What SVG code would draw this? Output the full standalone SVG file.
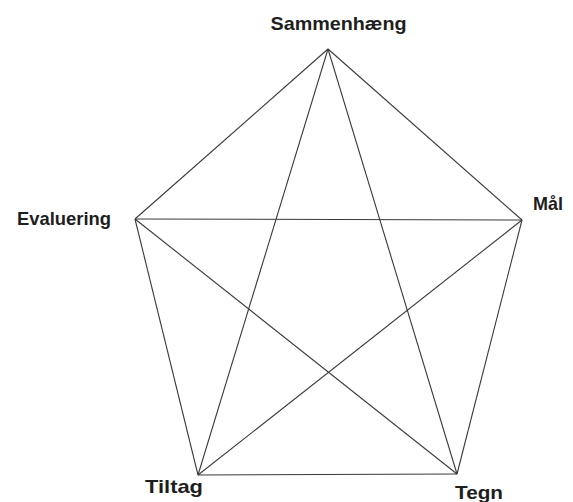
<svg xmlns="http://www.w3.org/2000/svg" width="573" height="502" viewBox="0 0 573 502">
<style>
.e{stroke:#3a3a3a;stroke-width:1.1;fill:none}
.t{font-family:"Liberation Sans",Arial,sans-serif;font-weight:bold;font-size:19px;fill:#1e1e1e}
</style>
<rect width="573" height="502" fill="#ffffff"/>
<g id="connectors">
<line class="e" x1="328" y1="49" x2="522" y2="220"/>
<line class="e" x1="522" y1="220" x2="457" y2="474"/>
<line class="e" x1="457" y1="474" x2="198" y2="475"/>
<line class="e" x1="198" y1="475" x2="135" y2="219"/>
<line class="e" x1="135" y1="219" x2="328" y2="49"/>
<line class="e" x1="328" y1="49" x2="457" y2="474"/>
<line class="e" x1="328" y1="49" x2="198" y2="475"/>
<line class="e" x1="135" y1="219" x2="522" y2="220"/>
<line class="e" x1="135" y1="219" x2="457" y2="474"/>
<line class="e" x1="522" y1="220" x2="198" y2="475"/>
</g>
<g id="sammenhaeng"><text class="t" x="270.5" y="30" textLength="136" lengthAdjust="spacingAndGlyphs">Sammenhæng</text></g>
<g id="maal"><text class="t" x="533" y="210" textLength="30" lengthAdjust="spacingAndGlyphs">Mål</text></g>
<g id="tegn"><text class="t" x="455" y="499" textLength="48" lengthAdjust="spacingAndGlyphs">Tegn</text></g>
<g id="tiltag"><text class="t" x="145" y="493" textLength="58" lengthAdjust="spacingAndGlyphs">Tiltag</text></g>
<g id="evaluering"><text class="t" x="17" y="225" textLength="94" lengthAdjust="spacingAndGlyphs">Evaluering</text></g>
</svg>
